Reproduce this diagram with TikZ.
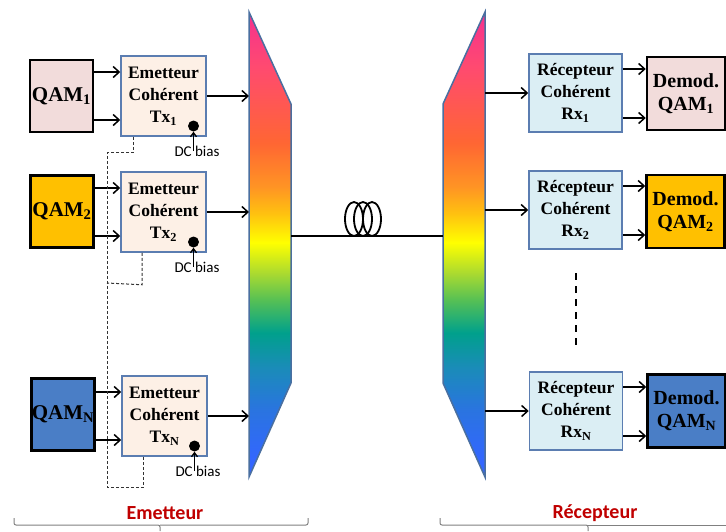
\documentclass[tikz,border=0pt]{standalone}
\usepackage{fontspec}
\setmainfont{Liberation Serif}
\newfontfamily\carlfont{Carlito}
\usetikzlibrary{arrows.meta,calc}
\definecolor{qampink}{HTML}{F2DCDB}
\definecolor{qamyellow}{HTML}{FFC000}
\definecolor{qamblue}{HTML}{4A7EC6}
\definecolor{txfill}{HTML}{FDF0E6}
\definecolor{rxfill}{HTML}{DBEEF4}
\definecolor{boxborder}{HTML}{5B7DB1}
\definecolor{muxborder}{HTML}{4A6FA0}
\definecolor{labelred}{HTML}{C00000}
\definecolor{bracegray}{HTML}{808080}
\definecolor{rb0}{HTML}{3366FF}
\definecolor{rb1}{HTML}{2A74E0}
\definecolor{rb2}{HTML}{1A8CB8}
\definecolor{rb3}{HTML}{00A08C}
\definecolor{rb4}{HTML}{55C055}
\definecolor{rb5}{HTML}{AADA30}
\definecolor{rb6}{HTML}{FFFF00}
\definecolor{rb7}{HTML}{FFC010}
\definecolor{rb8}{HTML}{FF9424}
\definecolor{rb9}{HTML}{FF6633}
\definecolor{rb10}{HTML}{FF4A70}
\definecolor{rb11}{HTML}{F5308F}
\pgfdeclareverticalshading{rainbowshade}{100bp}{%
 color(0bp)=(rb0); color(25bp)=(rb0); color(26.8bp)=(rb0); color(32.2bp)=(rb1);
 color(36.8bp)=(rb2); color(40.5bp)=(rb3); color(44bp)=(rb4); color(46.9bp)=(rb5);
 color(50.2bp)=(rb6); color(53.4bp)=(rb7); color(56.2bp)=(rb8); color(60.9bp)=(rb9);
 color(69.1bp)=(rb10); color(75bp)=(rb11); color(100bp)=(rb11)}
\tikzset{
 boxtext/.style={font=\bfseries\fontsize{17.5}{22}\selectfont, align=center, inner sep=0pt},
 qambox/.style={draw=black, line width=2.5pt, minimum width=63, minimum height=72,
   font=\bfseries\fontsize{21}{24}\selectfont, align=center, inner sep=0pt},
 demodbox/.style={draw=black, line width=2.5pt, minimum width=78, minimum height=73,
   font=\bfseries\fontsize{20}{23}\selectfont, align=center, inner sep=0pt},
 txbox/.style={boxtext, draw=boxborder, fill=txfill, line width=1.5pt, minimum width=85, minimum height=80},
 rxbox/.style={boxtext, draw=boxborder, fill=rxfill, line width=1.5pt, minimum width=93, minimum height=78},
 arr/.style={line width=1.5pt, -{Straight Barb[length=6pt,width=11pt]}},
 smallarr/.style={line width=1.3pt, -{Straight Barb[length=4pt,width=6pt]}},
 biasdot/.style={circle, fill=black, minimum size=11, inner sep=0pt},
 biaslabel/.style={font=\carlfont\fontsize{15}{17}\selectfont, inner sep=0pt},
 dashline/.style={line width=1pt, dash pattern=on 3pt off 2pt, black!80},
 muxshape/.style={draw=muxborder, line width=1.5pt, shading=rainbowshade},
 sidelabel/.style={font=\carlfont\bfseries\fontsize{20}{22}\selectfont, text=labelred},
 bracestyle/.style={draw=bracegray, line width=1pt, rounded corners=2pt}
}
\begin{document}
\begin{tikzpicture}[x=1pt,y=-1pt]
\useasboundingbox (0,0) rectangle (726,531);

% sources
\node[qambox, fill=qampink] (q1) at (61.5,96) {QAM\textsubscript{1}};
\node[qambox, fill=qamyellow] (q2) at (62,211.5) {QAM\textsubscript{2}};
\node[qambox, fill=qamblue] (qN) at (63,414.5) {QAM\textsubscript{N}};

% transmitters
\node[txbox] (tx1) at (163.5,96) {Emetteur\\Cohérent\\Tx\textsubscript{1}};
\node[txbox] (tx2) at (163.5,212) {Emetteur\\Cohérent\\Tx\textsubscript{2}};
\node[txbox] (txN) at (164.5,416) {Emetteur\\Cohérent\\Tx\textsubscript{N}};

\foreach \q/\t in {q1/tx1,q2/tx2,qN/txN}{
  \draw[arr] ([yshift=24pt]\t.west -| \q.east) -- ([yshift=24pt]\t.west);
  \draw[arr] ([yshift=-24pt]\t.west -| \q.east) -- ([yshift=-24pt]\t.west);
}

% DC bias
\foreach \t in {tx1,tx2,txN}{
  \node[biasdot] (d\t) at ($(\t.center)+(30,30)$) {};
  \node[biaslabel] (l\t) at ($(d\t)+(3.5,25)$) {DC bias};
  \draw[smallarr] (d\t |- l\t.center) -- (d\t.south);
}

% dashed control lines
\draw[dashline] ([xshift=-30.5pt]tx1.south) -- ++(0,16) -| (107,487) -| ([xshift=-21pt]txN.south);
\draw[dashline] ([xshift=-21.5pt]tx2.south) -- ++(0,32) -- (107,283);

% multiplexer and demultiplexer
\path[muxshape] (249,12) -- (291,104) -- (291,383) -- (249,477) -- cycle;
\path[muxshape] (485,12) -- (443,104) -- (443,383) -- (485,477) -- cycle;
\coordinate (muxL) at (249,0);
\coordinate (muxR) at (291,236);
\coordinate (demL) at (443,236);
\coordinate (demR) at (485,0);

\foreach \t in {tx1,tx2,txN}{
  \draw[arr] (\t.east) -- (\t.east -| muxL);
}

% fibre
\draw[line width=2pt] (muxR) -- (demL);
\foreach \cx in {354,363,372}{
  \draw[line width=1.8pt] (\cx,219) ellipse [x radius=9, y radius=17];
}

% receivers
\node[rxbox] (rx1) at (575.5,93) {Récepteur\\Cohérent\\Rx\textsubscript{1}};
\node[rxbox] (rx2) at (575.5,210) {Récepteur\\Cohérent\\Rx\textsubscript{2}};
\node[rxbox] (rxN) at (576,411) {Récepteur\\Cohérent\\Rx\textsubscript{N}};

\node[demodbox, fill=qampink] (dm1) at (686,93.5) {Demod.\\QAM\textsubscript{1}};
\node[demodbox, fill=qamyellow] (dm2) at (685.5,211.5) {Demod.\\QAM\textsubscript{2}};
\node[demodbox, fill=qamblue] (dmN) at (686.5,411) {Demod.\\QAM\textsubscript{N}};

\foreach \r/\d in {rx1/dm1,rx2/dm2,rxN/dmN}{
  \draw[arr] (\r.west -| demR) -- (\r.west);
  \draw[arr] ([yshift=24pt]\r.east) -- ([yshift=24pt]\r.east -| \d.west);
  \draw[arr] ([yshift=-25pt]\r.east) -- ([yshift=-25pt]\r.east -| \d.west);
}

% vertical ellipsis
\coordinate (vdA) at (576,273);
\coordinate (vdB) at (576,347);
\draw[line width=2pt, dash pattern=on 7pt off 6pt] (vdA) -- (vdB);

% bottom labels and braces
\node[sidelabel] (emlab) at (165,513) {Emetteur};
\node[sidelabel] (rclab) at (595,513) {Récepteur};
\draw[bracestyle] (14,518) |- (160,525) -- (160,531);
\draw[bracestyle] (160,525) -| (308,518);
\draw[bracestyle] (440,518) |- (588,525) -- (588,531);
\draw[bracestyle] (588,525) -- (726,525);
\end{tikzpicture}
\end{document}
